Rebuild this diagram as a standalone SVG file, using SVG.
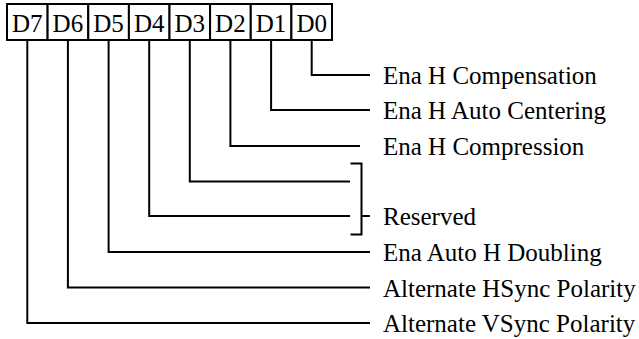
<svg xmlns="http://www.w3.org/2000/svg" width="639" height="339" viewBox="0 0 639 339">
<style>
.ln{fill:none;stroke:#000;stroke-width:2}
.cell{fill:#fff;stroke:#000;stroke-width:2}
text{font-size:25px;fill:#000;font-family:'Liberation Serif', 'Times New Roman', serif}
.c{text-anchor:middle}
</style>
<rect width="639" height="339" fill="#fff"/>
<g id="register">
<g id="D7"><rect class="cell" x="7" y="4" width="40.6" height="36"/><text class="c" x="27.3" y="31.5">D7</text></g>
<g id="D6"><rect class="cell" x="47.6" y="4" width="40.6" height="36"/><text class="c" x="67.9" y="31.5">D6</text></g>
<g id="D5"><rect class="cell" x="88.3" y="4" width="40.6" height="36"/><text class="c" x="108.6" y="31.5">D5</text></g>
<g id="D4"><rect class="cell" x="128.9" y="4" width="40.6" height="36"/><text class="c" x="149.2" y="31.5">D4</text></g>
<g id="D3"><rect class="cell" x="169.5" y="4" width="40.6" height="36"/><text class="c" x="189.8" y="31.5">D3</text></g>
<g id="D2"><rect class="cell" x="210.1" y="4" width="40.6" height="36"/><text class="c" x="230.4" y="31.5">D2</text></g>
<g id="D1"><rect class="cell" x="250.8" y="4" width="40.6" height="36"/><text class="c" x="271.1" y="31.5">D1</text></g>
<g id="D0"><rect class="cell" x="291.4" y="4" width="40.6" height="36"/><text class="c" x="311.7" y="31.5">D0</text></g>
</g>
<g id="connectors">
<path class="ln" d="M311.7,40 V75 H370"/>
<path class="ln" d="M271.1,40 V110 H370"/>
<path class="ln" d="M230.4,40 V146 H360"/>
<path class="ln" d="M189.8,40 V181.5 H350"/>
<path class="ln" d="M149.2,40 V216 H350"/>
<path class="ln" d="M108.6,40 V252 H370"/>
<path class="ln" d="M67.9,40 V287.5 H370"/>
<path class="ln" d="M27.3,40 V323 H370"/>
<path class="ln" d="M350.5,163.5 H361.5 V234.5 H350.5 M361.5,216 H370"/>
</g>
<g id="labels">
<text x="383" y="84">Ena H Compensation</text>
<text x="383" y="119">Ena H Auto Centering</text>
<text x="383" y="155">Ena H Compression</text>
<text x="383" y="225">Reserved</text>
<text x="383" y="261">Ena Auto H Doubling</text>
<text x="383" y="296.5">Alternate HSync Polarity</text>
<text x="383" y="332">Alternate VSync Polarity</text>
</g>
</svg>
